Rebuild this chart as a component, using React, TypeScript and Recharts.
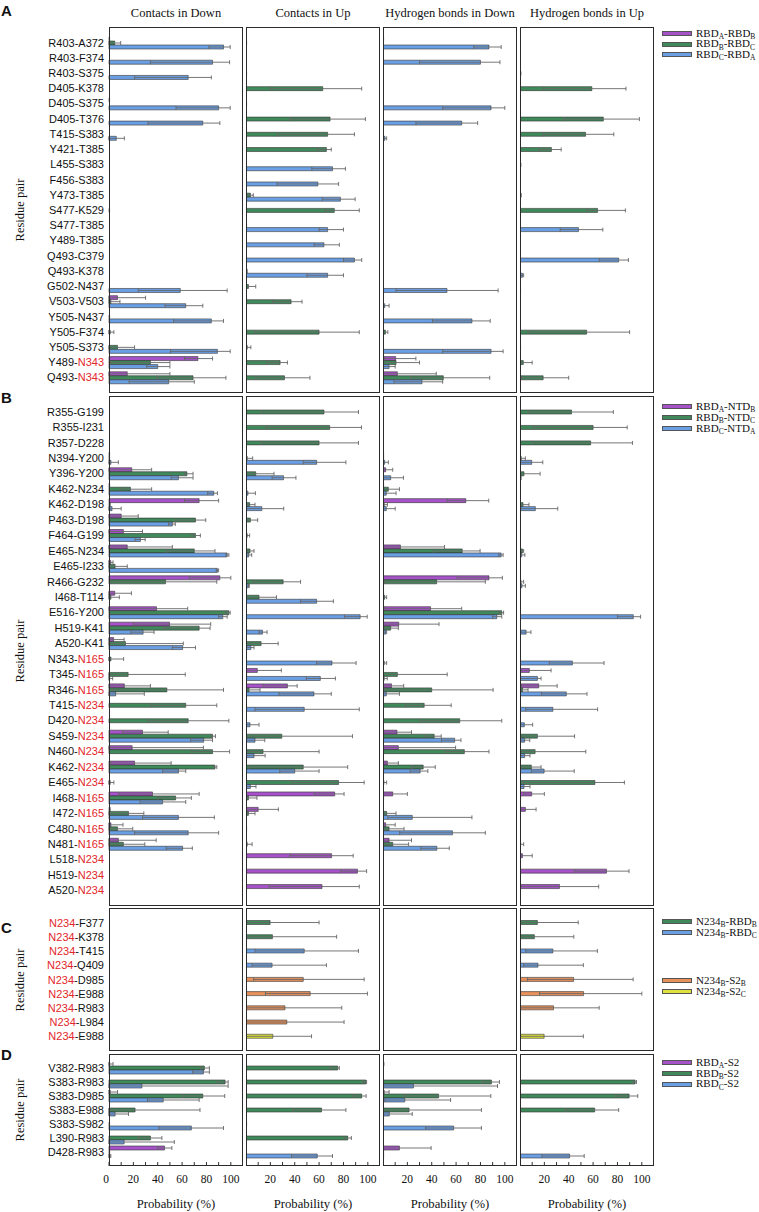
import React from 'react';
import { BarChart, Bar, XAxis, YAxis, ErrorBar, Cell, Label } from 'recharts';

// each entry: mean, or [mean, whisker low, whisker high]  (probability, %)
type E = number | [number, number, number];

const SERIF = "'Liberation Serif', 'Times New Roman', Times, 'DejaVu Serif', serif";
const SANS = "'Liberation Sans', Arial, sans-serif";
const PURPLE = '#a652c9';
const GREEN = '#40895b';
const BLUE = '#6b9fe4';
const ORANGE = '#e8915b';
const YELLOW = '#dfe23c';

const columns = ['Contacts in Down', 'Contacts in Up', 'Hydrogen bonds in Down', 'Hydrogen bonds in Up'];
const xTicks = [0, 10, 20, 30, 40, 50, 60, 70, 80, 90, 100, 110];

// ---- A: RBD-RBD ----  (* marks a glycan residue)
const aPairs = ['R403-A372', 'R403-F374', 'R403-S375', 'D405-K378', 'D405-S375', 'D405-T376', 'T415-S383', 'Y421-T385',
  'L455-S383', 'F456-S383', 'Y473-T385', 'S477-K529', 'S477-T385', 'Y489-T385', 'Q493-C379', 'Q493-K378',
  'G502-N437', 'V503-V503', 'Y505-N437', 'Y505-F374', 'Y505-S373', 'Y489-*N343', 'Q493-*N343'];
const aCD_p: E[] = [0.5, 0, 0, 0, 0.5, 0, 0, 0, 0, 0, 0, 0, 0, 0, 0, 0, 0, [7, 0, 30], 0, 0, 0, [73, 62, 85], [15, 0, 50]];
const aCD_g: E[] = [[4.7, 0, 9.6], 0, 0, 0, 0, 0, 0, 0, 0, 0, 0, 0.5, 0, 0, 0, 0, 0,
  [1.5, 0, 9], 0.5, [1, 0, 4], [7, 0, 21], [34, 1, 50], [69, 39, 96]];
const aCD_b: E[] = [[94, 82, 99.5], [85, 34, 99], [65, 21, 84], 0, [90, 55, 99.5], [77, 32, 91], [6, 0, 12.6],
  0, 0, 0, 0, 0, 0, 0, 0, 0,
  [58.5, 24, 97], [63, 46, 77], [84, 53, 94], 0, [89, 50.5, 99.5], [40, 31, 50], [49, 16.5, 70]];
const aCU_p: E[] = [0, 0, 0, 0, 0, 0, 0, 0, 0, 0, 0, 0, 0, 0, 0, 0, 0, 0, 0, 0, 0, 0, 0];
const aCU_g: E[] = [0.5, 0, 0.5, [63, 20, 95], 0.5, [69, 36, 98], [67, 26, 89], [66, 58.5, 70], 0, 0, [3.6, 0, 6],
  [72.5, 65, 93], 0.5, 0, 0, 1, [2, 0, 8], [37, 22, 46], 0, [60, 7.4, 93], [1, 0, 4], [28, 17, 34], [31.6, 8, 52.5]];
const aCU_b: E[] = [0, 0, 0, 0, 0, 0, 0, 0, [71, 54, 81.6], [59, 25.5, 76], [77.5, 62.6, 89.6], 0, [67, 60, 80],
  [64, 56, 76.6], [89, 80, 95], [67, 50, 80], 0, 0, 0, 0, 0, 0, 0];
const aHD_p: E[] = [0.5, 0, 0, 0, 0, 0, 0, 0, 0, 0, 0, 0, 0, 0, 0, 0, 0, 0, 0, 0, 0, [10.4, 1, 27], [11.8, 0, 43.7]];
const aHD_g: E[] = [0, 0, 0, 0, 0, 0, 0, 0, 0, 0, 0, 0, 0, 0, 0, 0, 0, 0, 0, [2, 0, 4], 0, [10.7, 0, 30], [49.5, 22.8, 87.6]];
const aHD_b: E[] = [[87, 74.5, 97], [80, 30, 96], 0, 0, [88.7, 49, 100], [64.6, 27, 77.7], [1.6, 0, 3],
  0, 0, 0, 0, 0, 0, 0, 0, 0,
  [52.5, 10.7, 94.5], [1.4, 0, 5], [73, 40.6, 88], 0, [88.7, 49, 98.6], [5, 0, 10], [32, 9, 49]];
const aHU_p: E[] = [0, 0, 0, 0, 0, 0, 0, 0, 0, 0, 0, 0, 0, 0, 0, 0, 0, 0, 0, 0, 0, 0, 0];
const aHU_g: E[] = [0, 0, 0.8, [59, 19, 87], 0, [68.4, 35.7, 98], [53.8, 19, 77], [25.8, 15.7, 33.8], 0.8, 0, 1,
  [63.7, 55, 86.5], 0, 0, 0, 0, 0, 0, 0, [54.7, 6.6, 90], 0.5, [2.7, 0, 10], [19, 1.4, 40]];
const aHU_b: E[] = [0, 0, 0, 0, 0, 0, 0, 0, 0, 0, 0, 0, [48, 33, 68], 0, [81, 65, 89], [2, 0, 3], 0.5,
  0, 0, 0, 0, 0, 0];

// ---- B: RBD-NTD ----
const bPairs = ['R355-G199', 'R355-I231', 'R357-D228', 'N394-Y200', 'Y396-Y200', 'K462-N234', 'K462-D198', 'P463-D198',
  'F464-G199', 'E465-N234', 'E465-I233', 'R466-G232', 'I468-T114', 'E516-Y200', 'H519-K41', 'A520-K41',
  'N343-*N165', 'T345-*N165', 'R346-*N165', 'T415-*N234', 'D420-*N234', 'S459-*N234', 'N460-*N234', 'K462-*N234',
  'E465-*N234', 'I468-*N165', 'I472-*N165', 'C480-*N165', 'N481-*N165', 'L518-*N234', 'H519-*N234', 'A520-*N234'];
const bCD_p: E[] = [
  0, 0, 0, 0.5, [18.7, 0, 35], 0.5, [74, 62, 90], [10, 0, 24],
  [11.8, 0, 27.5], [15, 0, 52], [1.4, 0, 3.3], [91, 66, 100], [4.7, 0, 18.4], [39, 0, 64.6], [49.7, 20, 83.5], [3.8, 0, 12.4],
  0, 0, [12.6, 0, 34], 0, 0, [27.5, 11, 48.6], [19, 0, 77.5], [21, 1.4, 51],
  0, [35.7, 8, 74], 1, [1.6, 0, 11.5], [7.7, 0, 38.7], 0, 0, 0];
const bCD_g: E[] = [
  0, 0, 0, 0.5, [64, 62, 69], [17.6, 9, 35], 1, [71, 54.7, 79.4],
  [71, 68, 75], [70, 47, 87], [5, 0, 15], [46.4, 0.5, 88.5], [1.6, 0, 8.5], [98.4, 95.6, 99.5], [74, 45, 83], [13.5, 0, 61],
  [1.6, 0, 12], [15.7, 0, 62.6], [47.5, 2.5, 94], [63, 34, 88.5], [65, 32, 98.4], [85, 84, 87.4], [85, 68, 99], [87, 86.3, 88.5],
  [1, 0, 4], [54.7, 40, 67.6], [16, 0, 28.6], [7, 0, 19.5], [11.8, 0, 29.4], 0, 0, 0];
const bCD_b: E[] = [
  0, 0, 0, [1.6, 0, 7.7], [57, 51, 69], [86, 81, 89], [2.5, 0, 10], [52, 49, 54.4],
  [25.8, 21.4, 29.7], [97, 96, 98.4], [89, 88, 90], 0, 0, [93.4, 90, 97], [28, 18, 37], [60.4, 52, 71],
  0, [0.5, 0, 3], [5.5, 0, 29], 0, 0, [77.7, 67, 85], 0, [57, 44, 63],
  0, [44, 25.5, 63], [57, 27.5, 86.5], [65, 21, 90], [60.4, 47, 68.4], 0, 0, 0];
const bCU_p: E[] = [
  0, 0, 0, 0, 0, 0, 0, 0,
  0, 0, 0, 0, 0, 0, 0, 0,
  0, [9.3, 0, 29], [34, 14, 42], 0, 0, 0, 0, 0,
  0, [72.8, 56, 80.5], [10, 0, 26.6], 0, 0, [70.3, 36, 88], [91.5, 77.7, 99], [62.4, 19, 93]];
const bCU_g: E[] = [
  [64, 12.4, 92.3], [68.7, 16.5, 94.8], [60, 12.4, 92.3], [1, 0, 5.5], [8, 0, 23], 0.5, [3, 0, 7.4], [3.6, 0, 9.6],
  [1, 0, 3], [3.3, 0, 6.6], 0, [30.5, 5.8, 44.8], [10.7, 0, 25], 0, 0.5, [12.4, 0, 26.4],
  0, 0.5, [2.5, 0, 11.5], 0, 0, [29.4, 0.5, 87.4], [14, 0, 60], [47, 2.2, 83.5],
  [76, 38, 97], [2, 0, 9], [2, 0, 7.4], 0.5, [1, 0, 5], 0, 0, 0];
const bCU_b: E[] = [
  0, 0, 0, [58, 47, 82], [30.8, 21.4, 41], [1.6, 0, 7.7], [13, 0, 31], 0,
  0, [2.2, 0, 4.7], 0, [2, 0, 2.7], [58, 44.8, 71.7], [93.7, 80.8, 99.5], [13.5, 10.7, 17.3], [4, 0, 6.6],
  [70.6, 58, 90.4], [61, 49.5, 73.4], [55.8, 27, 70], [47.8, 7.4, 93], [3.3, 0, 10.7], [7.4, 0, 15.4], [6.6, 0, 15.7], [40, 27.7, 60],
  [3.6, 0, 8.2], 0, 0, 0, 0, 0, 0, 0];
const bHD_p: E[] = [
  0, 0, 0, 0.5, [2.2, 0, 8], 0.5, [68, 52.7, 86.8], 0,
  0, [14.3, 0, 50.5], 0, [87, 61, 98], 0.5, [39, 1.5, 64.6], [12.9, 0, 46], 0,
  0, 0, [7, 0, 17], 0, 0, [11.5, 0, 23.4], [12.6, 0, 59.6], [3.6, 0, 12.6],
  0, [8, 0, 20], 0, [2.2, 0, 10], [5, 0, 23.4], 0, 0, 0];
const bHD_g: E[] = [
  0, 0, 0, 0.5, 0, [4.4, 0, 13.5], [1, 0, 3.6], 0,
  0, [65, 41.5, 79.7], 0, [44, 1.4, 84], [1.4, 0, 3], [97.5, 95, 99], [6.3, 0, 12.6], 0,
  0, [11.8, 0, 52.7], [40, 1.7, 90.4], [33.8, 18.4, 56], [63, 30.5, 97.5], [42, 33.8, 47.8], [66.8, 51.4, 87], [33, 23.4, 42.9],
  [0.8, 0, 3], 0.5, [3, 0, 10.7], [5, 0, 17.3], [8, 0, 21], 0, 0, 0];
const bHD_b: E[] = [
  0, 0, 0, [1.4, 0, 4.4], [6.3, 0, 16.8], [2.7, 0, 10.7], [2.7, 0, 10], 0,
  0, [97, 95, 98.6], 0, 0, 0, [93.4, 90, 97.5], [2.2, 0, 3], 0,
  [1, 0, 3], [1, 0, 3.5], [2.7, 0, 13.5], 0, 0, [58.8, 48, 64], 0, [30.5, 22.3, 36.8],
  0, 0, [24, 4, 73], [57, 13.7, 84], [44.2, 31, 54.4], 0, 0, 0];
const bHU_p: E[] = [
  0, 0, 0, 0, 0, 0, 0, 0,
  0, 0, 0, 0, 0, 0, 0, 0,
  0, [7.7, 0, 25.5], [15.4, 1, 30.5], 0, 0, 0, 0, 0,
  0, [9.6, 3, 20], [4.4, 0, 13.2], 0, 0, [2, 0, 10], [71, 44.5, 89.5], [32.4, 0, 64.6]];
const bHU_g: E[] = [
  [42.3, 6.6, 76.6], [60, 11, 88], [58, 10, 92.3], [1, 0, 4.4], [3.3, 0, 16.5], 0, [2.5, 0, 7.4], 0,
  0, [2, 0, 3], 0, [0.8, 0, 3], 0, 0, 0, 0,
  0, 0.5, [2, 0, 6.6], 0, 0, [14.3, 0, 44.8], [12.4, 0, 54], [9.3, 0, 17.3],
  [61.5, 2.5, 85.7], 0.5, 0, 0, [0.5, 0, 3], 0, 0, 0];
const bHU_b: E[] = [
  0, 0, 0, [9.6, 0, 18.7], 1, 0, [12.6, 0, 31], 0,
  0, [1.4, 0, 4], 0, [1.6, 0, 4.4], 0, [93, 80, 99], [5, 0, 9], 0,
  [43, 24, 69], [14.3, 0, 17.3], [38, 17.6, 55], [27, 4.7, 63.7], [3.6, 0, 10.4], [3.8, 0, 8], [3.8, 0, 8.2], [19.8, 9.3, 44.5],
  [3.3, 0, 8.2], 0, 0, 0, 0, 0, 0, 0];

// ---- C: N234 glycan ----
const cPairs = ['*N234-F377', '*N234-K378', '*N234-T415', '*N234-Q409', '*N234-D985', '*N234-E988', '*N234-R983', '*N234-L984', '*N234-E988'];
const cTargets = ['RBDB', 'RBDB', 'RBDC', 'RBDC', 'S2B', 'S2B', 'S2B', 'S2B', 'S2C'];
const cCD: E[] = [0, 0, 0, 0, 0, 0, 0, 0, 0];
const cCU: E[] = [[19.8, 0, 60], [21.7, 0, 74.4], [47.8, 7.4, 92.3], [21.4, 5, 66], [47, 6.3, 97], [52.7, 16, 99.7],
  [32, 0, 78.6], [33.5, 0, 80.5], [22, 0, 53.8]];
const cHD: E[] = [0, 0, 0, 0, 0, 0, 0, 0, 0];
const cHU: E[] = [[14.3, 0, 47.8], [11.8, 0, 44.2], [27, 4.7, 63.5], [14.8, 3, 52], [44, 6, 92.9], [52.2, 16, 100],
  [27.5, 0, 65], 0, [19.8, 0, 52]];

// ---- D: RBD-S2 ----
const dPairs = ['V382-R983', 'S383-R983', 'S383-D985', 'S383-E988', 'S383-S982', 'L390-R983', 'D428-R983'];
const dCD_p: E[] = [[0.5, 0, 3.3], 0, [1, 0, 7], 0, 0, 0, [45.6, 40, 51.6]];
const dCD_g: E[] = [[78.3, 75, 82.4], [95.3, 89, 97.8], [77, 60, 95], [21.4, 0, 74.7], 0.5, [34, 24, 43.4], 0.5];
const dCD_b: E[] = [[77.5, 68.7, 82.4], [27, 0, 97.8], [44.5, 31.6, 74], [5, 0, 16], [67.6, 41, 94], [12.4, 0, 53.6], [0.8, 0, 1.5]];
const dCU_p: E[] = [0, 0, 0, 0, 0, 0, 0];
const dCU_g: E[] = [[75.3, 69, 76.6], [98.4, 96, 99], [95, 88, 98.6], [62, 38.5, 82], 0.5, [83.5, 80.5, 86.5], 0];
const dCU_b: E[] = [0, 0, 0, 0, 0, 0, [58.5, 37.4, 71]];
const dHD_p: E[] = [0.8, 0, [1, 0, 5], 0, 0, 0, [13.5, 0, 39.5]];
const dHD_g: E[] = [0, [89, 81.3, 95.6], [45.6, 17.6, 88.5], [21.4, 0, 80.8], 0, 0, 0.5];
const dHD_b: E[] = [0, [25, 0, 94], [17.9, 1.5, 55.5], [5.2, 0, 24], [58, 35, 80.8], 0, 0.5];
const dHU_p: E[] = [0, 0, 0, 0, 0, 0, 0];
const dHU_g: E[] = [0, [94.5, 93, 95.6], [89.6, 78.6, 96.7], [61.3, 37.6, 81], 0, 0, 0];
const dHU_b: E[] = [0, 0, 0, 0, 0, 0, [40.7, 18, 52.7]];

const targetColor: Record<string, string> = { RBDB: GREEN, RBDC: BLUE, S2B: ORANGE, S2C: YELLOW };

// layout
const COL_X = [109, 246, 383, 520];
const PLOT_W = 134;

const mean = (e: E) => (typeof e === 'number' ? e : e[0]);
const spread = (e: E) => (typeof e === 'number' ? undefined : [e[0] - e[1], e[2] - e[0]]);

function makeRows(n: number, series: [string, E[]][]) {
  return Array.from({ length: n }, (_, i) => {
    const row: Record<string, unknown> = { i };
    series.forEach(([key, vals]) => {
      row[key] = mean(vals[i]);
      row[key + 'Err'] = spread(vals[i]);
    });
    return row;
  });
}

function PairTick(props: any) {
  const { x, y, payload, pairs } = props;
  const parts = String(pairs[payload.value] ?? '').split('-');
  return (
    <text x={x} y={y} dy={4} textAnchor="end" fontSize={11} fontFamily={SANS} fill="#111">
      {parts.map((p, k) => (
        <React.Fragment key={k}>
          {k > 0 && <tspan fill="#111">-</tspan>}
          <tspan fill={p.startsWith('*') ? '#e3262b' : '#111'}>{p.replace('*', '')}</tspan>
        </React.Fragment>
      ))}
    </text>
  );
}

function NumTick(props: any) {
  const { x, y, payload, first } = props;
  const v = payload.value as number;
  const txt = v === 0 ? (first ? '0' : '') : v % 20 === 0 && v <= 100 ? String(v) : '';
  if (!txt) return null;
  return (
    <text x={first && v === 0 ? x - 3 : x} y={y} dy="0.71em" textAnchor="middle" fontSize={11.5} fill="#111"
      fontFamily={SERIF} style={{ fontFamily: SERIF }}>{txt}</text>
  );
}

interface Section {
  id: string;
  top: number;
  h: number;
  pad: number;
  pairs: string[];
  cols: E[][][];
  colors: string[];
  cells?: string[];
  axisLabels?: boolean;
}

const sections: Section[] = [
  { id: 'A', top: 27, h: 366, pad: 8, pairs: aPairs, colors: [PURPLE, GREEN, BLUE],
    cols: [[aCD_p, aCD_g, aCD_b], [aCU_p, aCU_g, aCU_b], [aHD_p, aHD_g, aHD_b], [aHU_p, aHU_g, aHU_b]] },
  { id: 'B', top: 396, h: 510, pad: 8, pairs: bPairs, colors: [PURPLE, GREEN, BLUE],
    cols: [[bCD_p, bCD_g, bCD_b], [bCU_p, bCU_g, bCU_b], [bHD_p, bHD_g, bHD_b], [bHU_p, bHU_g, bHU_b]] },
  { id: 'C', top: 908, h: 143, pad: 7.5, pairs: cPairs, colors: [GREEN],
    cells: cTargets.map((t) => targetColor[t]),
    cols: [[cCD], [cCU], [cHD], [cHU]] },
  { id: 'D', top: 1054, h: 112, pad: 7, pairs: dPairs, colors: [PURPLE, GREEN, BLUE], axisLabels: true,
    cols: [[dCD_p, dCD_g, dCD_b], [dCU_p, dCU_g, dCU_b], [dHD_p, dHD_g, dHD_b], [dHU_p, dHU_g, dHU_b]] },
];

function Panel({ s, col }: { s: Section; col: number }) {
  const first = col === 0;
  const left = first ? 0 : COL_X[col];
  const width = first ? COL_X[0] + PLOT_W : PLOT_W;
  const extra = s.axisLabels ? 46 : 0;
  const keys = s.cols[col].map((_, k) => 's' + k);
  const rows = makeRows(s.pairs.length, s.cols[col].map((v, k) => [keys[k], v] as [string, E[]]));
  return (
    <>
      <div style={{ position: 'absolute', left, top: s.top }}>
        <BarChart width={width} height={s.h + extra} data={rows} layout="vertical" barGap={0}
          margin={{ top: 0, right: 0, bottom: 0, left: 0 }}>
          <XAxis xAxisId="t" orientation="top" mirror type="number" domain={[0, 110]} ticks={xTicks}
            tick={false} tickSize={4} axisLine={false} tickLine={{ stroke: '#333' }} />
          {s.axisLabels ? (
            <XAxis xAxisId="b" orientation="bottom" type="number" domain={[0, 110]} ticks={xTicks} height={46}
              tickSize={-4} tickMargin={13} axisLine={false} tickLine={{ stroke: '#333' }} interval={0}
              tick={(p: any) => <NumTick {...p} first={first} />}>
              <Label position="insideBottom" offset={4}
                content={(lp: any) => {
                  const vb = lp.viewBox || {};
                  return (
                    <text x={vb.x + vb.width / 2} y={vb.y + vb.height - 4} textAnchor="middle" fontSize={12.7}
                      fill="#111" fontFamily={SERIF} style={{ fontFamily: SERIF }}>Probability (%)</text>
                  );
                }} />
            </XAxis>
          ) : (
            <XAxis xAxisId="b" orientation="bottom" mirror type="number" domain={[0, 110]} ticks={xTicks}
              tick={false} tickSize={4} axisLine={false} tickLine={{ stroke: '#333' }} />
          )}
          {first && (
            <YAxis yAxisId="l" type="category" dataKey="i" width={COL_X[0]} axisLine={false} tickLine={false}
              tickSize={4} tickMargin={1} padding={{ top: s.pad, bottom: s.pad }} interval={0}
              tick={(p: any) => <PairTick {...p} pairs={s.pairs} />} />
          )}
          <YAxis yAxisId="r" orientation="right" mirror type="category" dataKey="i" tick={false} tickSize={4}
            axisLine={false} tickLine={{ stroke: '#333' }} padding={{ top: s.pad, bottom: s.pad }} interval={0} />
          {keys.map((key, k) => (
            <Bar key={key} xAxisId="b" yAxisId="r" dataKey={key} fill={s.colors[k]} stroke="#333" strokeWidth={0.6}
              barSize={4} isAnimationActive={false}>
              {s.cells && s.cells.map((c, j) => <Cell key={j} fill={c} />)}
              <ErrorBar dataKey={key + 'Err'} direction="x" width={2} stroke="#666" strokeWidth={0.9}
                isAnimationActive={false} />
            </Bar>
          ))}
        </BarChart>
      </div>
      <div style={{ position: 'absolute', left: COL_X[col], top: s.top, width: PLOT_W, height: s.h,
        border: '1.6px solid #2b2b2b', boxSizing: 'border-box', pointerEvents: 'none' }} />
    </>
  );
}

interface LegendItem { color: string; parts: [string, string?][]; y: number }

const legends: LegendItem[] = [
  { color: PURPLE, parts: [['RBD', 'A'], ['-RBD', 'B']], y: 33.5 },
  { color: GREEN, parts: [['RBD', 'B'], ['-RBD', 'C']], y: 44.2 },
  { color: BLUE, parts: [['RBD', 'C'], ['-RBD', 'A']], y: 54.8 },
  { color: PURPLE, parts: [['RBD', 'A'], ['-NTD', 'B']], y: 406.8 },
  { color: GREEN, parts: [['RBD', 'B'], ['-NTD', 'C']], y: 417.5 },
  { color: BLUE, parts: [['RBD', 'C'], ['-NTD', 'A']], y: 428.5 },
  { color: GREEN, parts: [['N234', 'B'], ['-RBD', 'B']], y: 921.8 },
  { color: BLUE, parts: [['N234', 'B'], ['-RBD', 'C']], y: 932.5 },
  { color: ORANGE, parts: [['N234', 'B'], ['-S2', 'B']], y: 980.8 },
  { color: YELLOW, parts: [['N234', 'B'], ['-S2', 'C']], y: 991.5 },
  { color: PURPLE, parts: [['RBD', 'A'], ['-S2']], y: 1062.8 },
  { color: GREEN, parts: [['RBD', 'B'], ['-S2']], y: 1073.5 },
  { color: BLUE, parts: [['RBD', 'C'], ['-S2']], y: 1084.2 },
];

const letters: [string, number][] = [['A', 11], ['B', 398], ['C', 928], ['D', 1055]];

export default function App() {
  return (
    <div style={{ position: 'absolute', left: 0, top: 0, width: 759, height: 1212, background: '#fff',
      fontFamily: SERIF, color: '#111', overflow: 'hidden' }}>
      {columns.map((t, c) => (
        <div key={t} style={{ position: 'absolute', left: COL_X[c] - 10, width: PLOT_W + 20, top: 5,
          textAlign: 'center', fontSize: 12.5, lineHeight: '16px', whiteSpace: 'nowrap', fontFamily: SERIF }}>{t}</div>
      ))}
      {sections.map((s) => (
        <React.Fragment key={s.id}>
          {s.cols.map((_, c) => <Panel key={c} s={s} col={c} />)}
          <div style={{ position: 'absolute', left: 20, top: s.top + s.h / 2, fontSize: 12.5, whiteSpace: 'nowrap',
            fontFamily: SERIF, transform: 'translate(-50%, -50%) rotate(-90deg)' }}>Residue pair</div>
        </React.Fragment>
      ))}
      {letters.map(([l, y]) => (
        <div key={l} style={{ position: 'absolute', left: 1, top: y - 9, fontFamily: SANS, fontWeight: 700,
          fontSize: 15, lineHeight: '18px' }}>{l}</div>
      ))}
      {legends.map((it, k) => (
        <div key={k} style={{ position: 'absolute', left: 662, top: it.y - 5, height: 10, display: 'flex',
          alignItems: 'center', whiteSpace: 'nowrap', fontFamily: SERIF }}>
          <div style={{ width: 30, height: 5, background: it.color, border: '1px solid #555', boxSizing: 'border-box',
            marginRight: 4, flex: 'none' }} />
          <span style={{ fontSize: 11, lineHeight: '10px' }}>
            {it.parts.map(([main, sub], j) => (
              <React.Fragment key={j}>{main}{sub && <span style={{ fontSize: 7.5, position: 'relative', top: 2.5 }}>{sub}</span>}</React.Fragment>
            ))}
          </span>
        </div>
      ))}
    </div>
  );
}
